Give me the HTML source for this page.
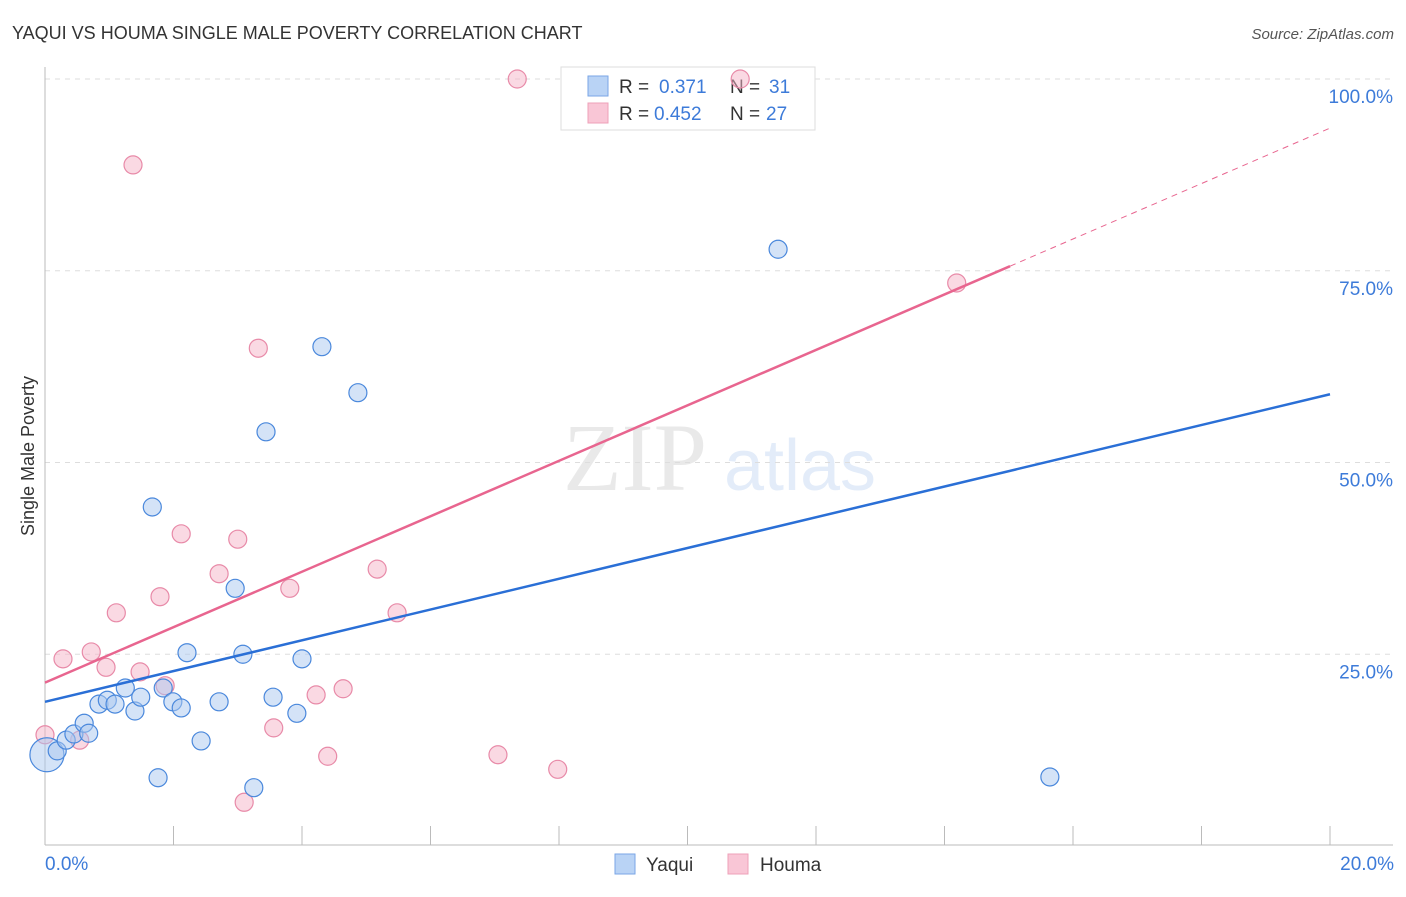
<!DOCTYPE html>
<html><head><meta charset="utf-8"><style>
body{margin:0;background:#fff;font-family:"Liberation Sans",sans-serif}
</style></head><body>
<svg width="1406" height="892" xmlns="http://www.w3.org/2000/svg" font-family="Liberation Sans, sans-serif">
<text x="12" y="39" font-size="18" fill="#333">YAQUI VS HOUMA SINGLE MALE POVERTY CORRELATION CHART</text>
<text x="1394" y="39" font-size="15" fill="#555" text-anchor="end" font-style="italic">Source: ZipAtlas.com</text>
<g opacity="0.18">
<text x="635" y="490" font-size="96" font-family="Liberation Serif, serif" fill="#888" text-anchor="middle">ZIP</text>
<text x="800" y="490" font-size="72" fill="#6a9be0" text-anchor="middle">atlas</text>
</g>
<g id="grid"></g>
<g id="axes"></g>
<g>
<rect x="561" y="67" width="254" height="63" fill="#fff" stroke="#ddd"/>
<rect x="588" y="76" width="20" height="20" fill="#b9d3f5" stroke="#7aa6e6"/>
<rect x="588" y="103" width="20" height="20" fill="#f9c6d6" stroke="#eea0b8"/>
<text x="619" y="93" font-size="19" fill="#333">R =</text>
<text x="659" y="93" font-size="19" fill="#3d7bd9">0.371</text>
<text x="730" y="93" font-size="19" fill="#333">N =</text>
<text x="769" y="93" font-size="19" fill="#3d7bd9">31</text>
<text x="619" y="120" font-size="19" fill="#333">R =</text>
<text x="654" y="120" font-size="19" fill="#3d7bd9">0.452</text>
<text x="730" y="120" font-size="19" fill="#333">N =</text>
<text x="766" y="120" font-size="19" fill="#3d7bd9">27</text>
</g>
<g id="marks"></g>
<text transform="translate(34,456) rotate(-90)" font-size="18" fill="#333" text-anchor="middle">Single Male Poverty</text>
<text x="45" y="870" font-size="19" fill="#3d7bd9">0.0%</text>
<text x="1394" y="870" font-size="19" fill="#3d7bd9" text-anchor="end">20.0%</text>
<g>
<rect x="615" y="854" width="20" height="20" fill="#b9d3f5" stroke="#7aa6e6"/>
<text x="646" y="871" font-size="19" fill="#333">Yaqui</text>
<rect x="728" y="854" width="20" height="20" fill="#f9c6d6" stroke="#eea0b8"/>
<text x="760" y="871" font-size="19" fill="#333">Houma</text>
</g>
</svg>
<script>
const yTicks=[25,50,75,100];
const yTickLabels=["25.0%","50.0%","75.0%","100.0%"];
const xTicks=[0,2,4,6,8,10,12,14,16,18,20];
const yaquiX=[0.03,0.19,0.33,0.45,0.61,0.68,0.84,0.97,1.09,1.25,1.40,1.49,1.67,1.76,1.84,1.99,2.12,2.21,2.43,2.71,2.96,3.08,3.25,3.44,3.55,3.92,4.00,4.31,4.87,11.41,15.64];
const yaquiY=[11.9,12.4,13.8,14.6,16.0,14.7,18.5,19.0,18.5,20.6,17.6,19.4,44.2,8.9,20.6,18.8,18.0,25.2,13.7,18.8,33.6,25.0,7.6,54.0,19.4,17.3,24.4,65.1,59.1,77.8,9.0];
const houmaX=[0.0,0.28,0.54,0.72,0.95,1.11,1.37,1.48,1.79,1.87,2.12,2.71,3.00,3.10,3.32,3.56,3.81,4.22,4.40,4.64,5.17,5.48,7.05,7.35,7.98,10.82,14.19];
const houmaY=[14.5,24.4,13.8,25.3,23.3,30.4,88.8,22.7,32.5,20.9,40.7,35.5,40.0,5.7,64.9,15.4,33.6,19.7,11.7,20.5,36.1,30.4,11.9,100,10.0,100,73.4];
const yaquiTrend=[18.8,58.9];
const houmaTrend=[21.3,93.6];
const houmaSolidEnd=15.02;

const NS="http://www.w3.org/2000/svg";
const X=v=>45+v/20*1285;
const Y=v=>846-v*7.67;
function mk(tag,attrs,parent){const e=document.createElementNS(NS,tag);for(const k in attrs)e.setAttribute(k,attrs[k]);document.getElementById(parent).appendChild(e);return e;}
yTicks.forEach((t,i)=>{
 const l=mk('line',{x1:45,x2:1393,y1:Y(t),y2:Y(t),stroke:'#ddd','stroke-dasharray':'5,5'},'grid');
 
 
 const tx=mk('text',{x:1393,y:Y(t)+24,'font-size':19,fill:'#3d7bd9','text-anchor':'end'},'grid');
 tx.textContent=yTickLabels[i];
 
 
});
const ax=mk('line',{x1:45,x2:1393,y1:845,y2:845,stroke:'#bbb'},'axes');


const ay=mk('line',{x1:45,x2:45,y1:67,y2:845,stroke:'#bbb'},'axes');


xTicks.forEach(t=>{
 const l=mk('line',{x1:X(t),x2:X(t),y1:826,y2:845,stroke:'#bbb'},'axes');
 
 
});
function pts(xs,ys,fill,stroke,name){
 xs.forEach((x,i)=>{
  const c=mk('circle',{cx:X(x),cy:Y(ys[i]),r:(i===0&&name==='yaqui-point')?17:9,fill:fill,'fill-opacity':0.5,stroke:stroke,'stroke-width':1.2},'marks');
  
  
 });
}
pts(houmaX,houmaY,'#f6b3c8','#e88aa8','houma-point');
pts(yaquiX,yaquiY,'#a9c8f0','#4a88dc','yaqui-point');
const bl=mk('line',{x1:X(0),y1:Y(yaquiTrend[0]),x2:X(20),y2:Y(yaquiTrend[1]),stroke:'#2a6fd6','stroke-width':2.5},'marks');


const hm=houmaTrend[0]+(houmaTrend[1]-houmaTrend[0])*houmaSolidEnd/20;
const pl=mk('line',{x1:X(0),y1:Y(houmaTrend[0]),x2:X(houmaSolidEnd),y2:Y(hm),stroke:'#e8658f','stroke-width':2.5},'marks');


const pd=mk('line',{x1:X(houmaSolidEnd),y1:Y(hm),x2:X(20),y2:Y(houmaTrend[1]),stroke:'#e8658f','stroke-width':1,'stroke-dasharray':'6,5'},'marks');


</script>
</body></html>
